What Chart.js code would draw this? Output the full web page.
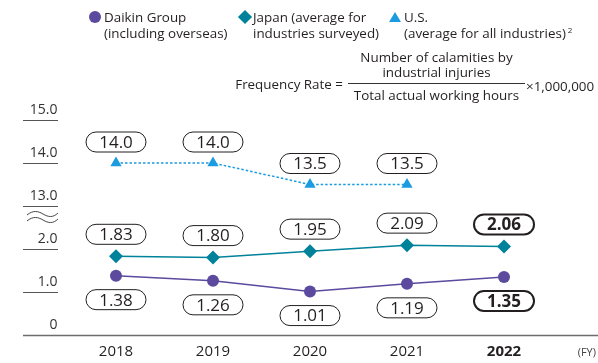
<!DOCTYPE html>
<html lang="en">
<head>
  <meta charset="UTF-8">
  <title>Frequency Rate</title>
  <script src="https://cdn.jsdelivr.net/npm/chart.js"></script>
  <style>
    body {
      margin: 0;
      background: #ffffff;
      font-family: 'Open Sans', sans-serif;
      color: #231f20;
    }
    #wrap {
      position: relative;
      width: 598px;
      height: 363px;
      overflow: hidden;
    }
    #chart {
      position: absolute;
      left: 0;
      top: 0;
    }
    .txt {
      position: absolute;
      font-size: 13.4px;
      white-space: nowrap;
    }
    .legend-text { line-height: 16px; }
    .mark { position: absolute; }
    .dot {
      width: 12px; height: 12px; border-radius: 50%;
      background: #5b4a9e;
    }
    .diamond {
      width: 10px; height: 10px;
      background: #00829b;
      transform: rotate(45deg);
    }
    .tri {
      width: 0; height: 0;
      border-left: 6px solid transparent;
      border-right: 6px solid transparent;
      border-bottom: 10px solid #1b9be0;
    }
    sup {
      font-size: 8px;
      line-height: 0;
      position: relative;
      top: -5px;
      vertical-align: baseline;
      margin-left: 2px;
    }
  </style>
</head>
<body>

<div id="wrap">
  <canvas id="chart" width="598" height="363"></canvas>

  <!-- leyenda -->
  <div class="mark dot" style="left:89px; top:11px;"></div>
  <div class="txt legend-text" style="left:104px; top:9px;">Daikin Group<br>(including overseas)</div>
  <div class="mark diamond" style="left:240px; top:12px;"></div>
  <div class="txt legend-text" style="left:253px; top:9px;">Japan (average for<br>industries surveyed)</div>
  <div class="mark tri" style="left:389px; top:12px;"></div>
  <div class="txt legend-text" style="left:404px; top:9px;">U.S.<br>(average for all industries)<sup>2</sup></div>

  <!-- fórmula -->
  <div class="txt" style="right:255px; top:75px; line-height:18px;">Frequency Rate =</div>
  <div class="txt" style="left:348px; width:177px; top:50px; line-height:15px; text-align:center;">Number of calamities by<br>industrial injuries</div>
  <div style="position:absolute; left:348px; top:83px; width:177px; height:1px; background:#333;"></div>
  <div class="txt" style="left:348px; width:177px; top:86px; line-height:18px; text-align:center;">Total actual working hours</div>
  <div class="txt" style="left:526px; top:77px; line-height:18px;">×1,000,000</div>

  <div class="txt" style="right:2px; top:344px; font-size:11px; color:#444; line-height:16px;">(FY)</div>
</div>

<script>
  // Datos
  const years = ['2018', '2019', '2020', '2021', '2022'];
  const daikin = [1.38, 1.26, 1.01, 1.19, 1.35];
  const japan = [1.83, 1.80, 1.95, 2.09, 2.06];
  const us = [14.0, 14.0, 13.5, 13.5, null];

  // Eje Y cortado entre 2 y 13
  const axisTicks = [0, 1, 2, 13, 14, 15];
  const tickLabels = ['0', '1.0', '2.0', '13.0', '14.0', '15.0'];
  const breakFrom = 13;
  const breakGap = 10;

  function toAxis(v) {
    if (v === null) return null;
    return v >= breakFrom ? v - breakGap : v;
  }

  const PURPLE = '#5b4a9e';
  const TEAL = '#00829b';
  const BLUE = '#1b9be0';
  const INK = '#231f20';

  // Cajas con los valores (desplazamiento vertical por serie)
  const boxSettings = [
    { values: daikin, digits: 2, dy: 24 },
    { values: japan, digits: 2, dy: -22 },
    { values: us, digits: 1, dy: -21 }
  ];
  const boldIndex = 4;

  const valueBoxes = {
    id: 'valueBoxes',
    afterDatasetsDraw(chart) {
      const c = chart.ctx;
      c.save();
      boxSettings.forEach((s, di) => {
        const meta = chart.getDatasetMeta(di);
        meta.data.forEach((pt, i) => {
          const v = s.values[i];
          if (v === null) return;
          const bold = i === boldIndex;
          const w = 60, h = 20;
          const x = pt.x, y = pt.y + s.dy;
          c.beginPath();
          c.roundRect(x - w / 2, y - h / 2, w, h, 10);
          c.fillStyle = '#fff';
          c.fill();
          c.lineWidth = bold ? 2 : 1;
          c.strokeStyle = INK;
          c.stroke();
          c.fillStyle = INK;
          c.font = (bold ? 'bold ' : '') + '17px "Open Sans"';
          c.textAlign = 'center';
          c.textBaseline = 'middle';
          c.fillText(v.toFixed(s.digits), x, y + 1);
        });
      });
      c.restore();
    }
  };

  // Línea base, marcas del eje Y y símbolo de corte
  const axisDecor = {
    id: 'axisDecor',
    beforeDatasetsDraw(chart) {
      const c = chart.ctx;
      const yScale = chart.scales.y;
      c.save();
      c.strokeStyle = '#555';
      c.lineWidth = 1.2;
      axisTicks.forEach(v => {
        if (v === 0) return;
        const y = Math.round(yScale.getPixelForValue(toAxis(v))) + 0.5;
        c.beginPath();
        c.moveTo(23, y);
        c.lineTo(58, y);
        c.stroke();
      });
      const base = Math.round(yScale.getPixelForValue(0)) + 0.5;
      c.strokeStyle = '#6d6d6d';
      c.lineWidth = 1.5;
      c.beginPath();
      c.moveTo(23, base);
      c.lineTo(598, base);
      c.stroke();

      // símbolo de corte
      c.strokeStyle = '#444';
      c.lineWidth = 1;
      [214, 220].forEach(y0 => {
        c.beginPath();
        c.moveTo(27, y0 + 1);
        c.bezierCurveTo(33, y0 - 4, 38, y0 - 3, 43, y0);
        c.bezierCurveTo(48, y0 + 3, 53, y0 + 4, 58, y0 - 1);
        c.stroke();
      });
      c.restore();
    }
  };

  const ctx = document.getElementById('chart').getContext('2d');
  const chart = new Chart(ctx, {
    type: 'line',
    data: {
      labels: years,
      datasets: [
        {
          label: 'Daikin Group',
          data: daikin.map(toAxis),
          borderColor: PURPLE,
          backgroundColor: PURPLE,
          borderWidth: 1.5,
          pointStyle: 'circle',
          pointRadius: 6,
          pointBorderWidth: 0,
          tension: 0
        },
        {
          label: 'Japan',
          data: japan.map(toAxis),
          borderColor: TEAL,
          backgroundColor: TEAL,
          borderWidth: 1.5,
          pointStyle: 'rectRot',
          pointRadius: 7,
          pointBorderWidth: 0,
          tension: 0
        },
        {
          label: 'U.S.',
          data: us.map(toAxis),
          borderColor: BLUE,
          backgroundColor: BLUE,
          borderWidth: 1.5,
          borderDash: [2.5, 2],
          pointStyle: 'triangle',
          pointRadius: 6.5,
          pointBorderWidth: 0,
          tension: 0
        }
      ]
    },
    options: {
      responsive: false,
      animation: false,
      layout: {
        padding: { top: 120, right: 45.5, bottom: 0, left: 0 }
      },
      plugins: {
        legend: { display: false },
        tooltip: { enabled: false }
      },
      scales: {
        x: {
          offset: true,
          grid: { display: false, drawTicks: false },
          border: { display: false },
          afterFit(scale) { scale.height = 28; },
          ticks: {
            padding: 8,
            color: INK,
            font: c => ({ family: 'Open Sans', size: 15, weight: c.index === boldIndex ? 'bold' : 'normal' })
          }
        },
        y: {
          min: 0,
          max: toAxis(15),
          grid: { display: false, drawTicks: false },
          border: { display: false },
          afterFit(scale) { scale.width = 67.5; },
          afterBuildTicks(scale) {
            scale.ticks = axisTicks.map(v => ({ value: toAxis(v) }));
          },
          ticks: {
            padding: 10,
            labelOffset: -10,
            color: '#333',
            font: { family: 'Open Sans', size: 14 },
            callback: (value, index) => tickLabels[index]
          }
        }
      }
    },
    plugins: [axisDecor, valueBoxes]
  });
</script>
</body>
</html>
